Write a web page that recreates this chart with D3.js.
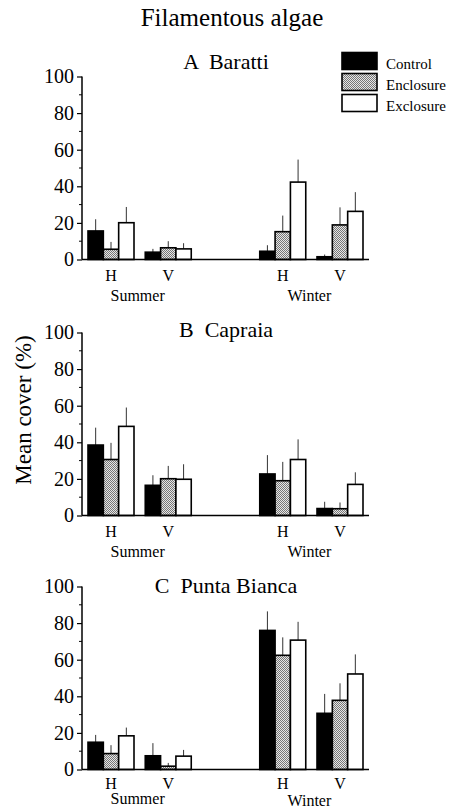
<!DOCTYPE html>
<html>
<head>
<meta charset="utf-8">
<script src="https://cdn.jsdelivr.net/npm/d3@7"></script>
<style>
  body { margin: 0; background: #fff; }
  text { font-family: "Liberation Serif", "Times New Roman", serif; fill: #000; }
</style>
</head>
<body>
<script>
  var w = 456;
  var h = 809;

  // data
  var seasons = ["Summer", "Winter"];
  var habitats = ["H", "V"];
  var treatments = ["Control", "Enclosure", "Exclosure"];
  var sites = ["A  Baratti", "B  Capraia", "C  Punta Bianca"];

  // mean cover, order: Summer H, Summer V, Winter H, Winter V; each [Control, Enclosure, Exclosure]
  var baratti = [[15.6, 5.6, 20.1], [4, 6.4, 5.8], [4.5, 15.2, 42.3], [1.5, 18.9, 26.3]];
  var barattiErr = [[22, 9.6, 28.7], [5.8, 10, 8.9], [7.8, 24, 54.6], [2.7, 28.5, 36.8]];
  var capraia = [[38.5, 30.6, 48.7], [16.5, 20.1, 19.8], [22.7, 19, 30.6], [3.8, 3.7, 17]];
  var capraiaErr = [[48, 39.7, 59], [22, 27.1, 28], [33, 29.3, 41.6], [7.5, 7.1, 23.6]];
  var puntaBianca = [[14.9, 8.7, 18.4], [7.5, 1.8, 7.3], [76, 62.4, 70.7], [30.7, 37.8, 52.2]];
  var puntaBiancaErr = [[18.9, 13.3, 22.9], [14.4, 3.6, 10.7], [86.4, 72.2, 80.7], [41.3, 47.1, 62.9]];
  var yTicks = [0, 20, 40, 60, 80, 100];
  var yMinor = [10, 30, 50, 70, 90];

  var means = [baratti, capraia, puntaBianca];
  var errs = [barattiErr, capraiaErr, puntaBiancaErr];

  // layout
  var panelBase = [259.5, 515.5, 769.5];
  var panelTitleY = [69, 337, 593];
  var habLabelDy = [21, 21, 19];
  var seasonLabelDy = [[41, 41], [41, 41], [34, 36]];
  var plotH = 183;
  var axisLeft = 82, axisRight = 369;

  var svg = d3.select("body").append("svg")
              .attr("width", w)
              .attr("height", h);

  var defs = svg.append("defs");
  var pat = defs.append("pattern")
                .attr("id", "stipple")
                .attr("patternUnits", "userSpaceOnUse")
                .attr("width", 2)
                .attr("height", 2);
  pat.append("rect").attr("width", 2).attr("height", 2).attr("fill", "#e6e6e6");
  pat.append("rect").attr("x", 0).attr("y", 0).attr("width", 1).attr("height", 1).attr("fill", "#777");
  pat.append("rect").attr("x", 1).attr("y", 1).attr("width", 1).attr("height", 1).attr("fill", "#777");

  var fills = {"Control": "#000", "Enclosure": "url(#stipple)", "Exclosure": "#fff"};

  // group slot: season * 3 + habitat -> 0, 1, 3, 4
  var x = d3.scaleLinear().domain([0, 4]).range([111, 340]);
  var inner = d3.scaleBand().domain(treatments).range([-23, 23]);

  var groups = [];
  seasons.forEach(function(s, si) {
    habitats.forEach(function(hb, hi) {
      groups.push({season: s, habitat: hb, slot: si * 3 + hi});
    });
  });

  svg.append("text")
     .attr("x", 232)
     .attr("y", 26)
     .attr("text-anchor", "middle")
     .attr("font-size", "25px")
     .text("Filamentous algae");

  svg.append("text")
     .attr("transform", "translate(31,410) rotate(-90)")
     .attr("text-anchor", "middle")
     .attr("font-size", "23px")
     .text("Mean cover (%)");

  sites.forEach(function(site, p) {
    var base = panelBase[p];
    var y = d3.scaleLinear().domain([0, 100]).range([base, base - plotH]);
    var g = svg.append("g");

    g.append("text")
     .attr("x", 226)
     .attr("y", panelTitleY[p])
     .attr("text-anchor", "middle")
     .attr("font-size", "22px")
     .style("white-space", "pre")
     .text(site);

    var bars = [];
    groups.forEach(function(gr, gi) {
      treatments.forEach(function(t, ti) {
        bars.push({slot: gr.slot, t: t, v: means[p][gi][ti], e: errs[p][gi][ti]});
      });
    });

    g.selectAll("line.err")
     .data(bars)
     .enter()
     .append("line")
     .attr("class", "err")
     .attr("x1", function(d) { return x(d.slot) + inner(d.t) + inner.bandwidth() / 2; })
     .attr("x2", function(d) { return x(d.slot) + inner(d.t) + inner.bandwidth() / 2; })
     .attr("y1", function(d) { return y(d.v); })
     .attr("y2", function(d) { return y(d.e); })
     .attr("stroke", "#333")
     .attr("stroke-width", 1);

    g.selectAll("rect.bar")
     .data(bars)
     .enter()
     .append("rect")
     .attr("class", "bar")
     .attr("x", function(d) { return x(d.slot) + inner(d.t); })
     .attr("y", function(d) { return y(d.v); })
     .attr("width", inner.bandwidth())
     .attr("height", function(d) { return base - y(d.v); })
     .attr("fill", function(d) { return fills[d.t]; })
     .attr("stroke", "#000")
     .attr("stroke-width", 1.6);

    // axes
    var ax = g.append("g").attr("transform", "translate(" + axisLeft + ",0)");
    ax.call(d3.axisLeft(y).tickValues(yTicks).tickSize(5).tickPadding(3).tickFormat(d3.format("d")));
    ax.selectAll(".tick text")
      .attr("font-size", "20px");
    ax.selectAll(".tick line").attr("stroke-width", 1.2);
    ax.select(".domain").remove();
    ax.append("g")
      .selectAll("line")
      .data(yMinor)
      .enter()
      .append("line")
      .attr("x1", -3)
      .attr("x2", 0)
      .attr("y1", function(d) { return y(d); })
      .attr("y2", function(d) { return y(d); })
      .attr("stroke", "#000")
      .attr("stroke-width", 1);

    g.append("line")
     .attr("x1", axisLeft).attr("x2", axisLeft)
     .attr("y1", y(0)).attr("y2", y(100))
     .attr("stroke", "#000").attr("stroke-width", 1.5);
    g.append("line")
     .attr("x1", axisLeft).attr("x2", axisRight)
     .attr("y1", y(0)).attr("y2", y(0))
     .attr("stroke", "#000").attr("stroke-width", 1.5);

    g.selectAll("text.hab")
     .data(groups)
     .enter()
     .append("text")
     .attr("class", "hab")
     .attr("x", function(d) { return x(d.slot); })
     .attr("y", base + habLabelDy[p])
     .attr("text-anchor", "middle")
     .attr("font-size", "16px")
     .text(function(d) { return d.habitat; });

    g.selectAll("text.season")
     .data(seasons)
     .enter()
     .append("text")
     .attr("class", "season")
     .attr("x", function(d, i) { return x(i * 3 + 0.5) - 2; })
     .attr("y", function(d, i) { return base + seasonLabelDy[p][i]; })
     .attr("text-anchor", "middle")
     .attr("font-size", "16px")
     .text(function(d) { return d; });
  });

  // legend
  var leg = svg.append("g");
  leg.selectAll("rect")
     .data(treatments)
     .enter()
     .append("rect")
     .attr("x", 342)
     .attr("y", function(d, i) { return 52.5 + i * 21; })
     .attr("width", 35)
     .attr("height", 17)
     .attr("fill", function(d) { return fills[d]; })
     .attr("stroke", "#000")
     .attr("stroke-width", 1.6);
  leg.selectAll("text")
     .data(treatments)
     .enter()
     .append("text")
     .attr("x", 386)
     .attr("y", function(d, i) { return 68.5 + i * 21; })
     .attr("font-size", "15px")
     .text(function(d) { return d; });
</script>
</body>
</html>
